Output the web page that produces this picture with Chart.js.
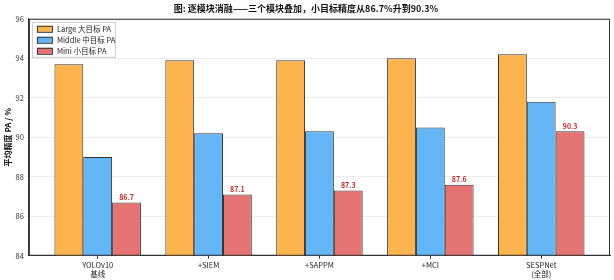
<!DOCTYPE html>
<html>
<head>
<meta charset="utf-8">
<script src="https://cdn.jsdelivr.net/npm/chart.js@4.4.0/dist/chart.umd.min.js"></script>
<style>
  html, body { margin: 0; padding: 0; background: #fff; }
  #wrap { width: 614px; height: 280px; }
</style>
</head>
<body>
<div id="wrap"><canvas id="chart" width="614" height="280"></canvas></div>
<script>
const categories = [['YOLOv10', '基线'], '+SIEM', '+SAPPM', '+MCI', ['SESPNet', '(全部)']];
const largePA = [93.7, 93.9, 93.9, 94.0, 94.2];
const middlePA = [89.0, 90.2, 90.3, 90.5, 91.8];
const miniPA = [86.7, 87.1, 87.3, 87.6, 90.3];
const seriesNames = ['Large 大目标 PA', 'Middle 中目标 PA', 'Mini 小目标 PA'];
const seriesColors = ['#fdb44e', '#64b5f6', '#e57373'];
const yTicks = [84, 86, 88, 90, 92, 94, 96];

const FONT = '"Noto Sans CJK SC", "DejaVu Sans", sans-serif';

// frame, legend box inside plot, labels above mini bars
const extras = {
  id: 'extras',
  afterDatasetsDraw(chart) {
    const ctx = chart.ctx;
    const a = chart.chartArea;
    ctx.save();
    const meta = chart.getDatasetMeta(2);
    ctx.fillStyle = '#c62828';
    ctx.font = 'bold 7px ' + FONT;
    ctx.textAlign = 'center';
    ctx.textBaseline = 'bottom';
    meta.data.forEach((bar, i) => {
      ctx.fillText(miniPA[i].toFixed(1), bar.x, bar.y - 2);
    });
    ctx.strokeStyle = '#333';
    ctx.lineWidth = 1;
    ctx.strokeRect(a.left + 0.5, a.top + 0.5, a.right - a.left - 1, a.bottom - a.top - 1);
    // legend
    const lx = a.left + 3, ly = a.top + 3, lw = 83, lh = 35;
    ctx.fillStyle = 'rgba(255,255,255,0.9)';
    ctx.strokeStyle = '#ccc';
    ctx.fillRect(lx, ly, lw, lh);
    ctx.strokeRect(lx + 0.5, ly + 0.5, lw, lh);
    ctx.font = '7.5px ' + FONT;
    ctx.textAlign = 'left';
    ctx.textBaseline = 'middle';
    seriesNames.forEach((name, i) => {
      const y = ly + 7 + i * 11;
      ctx.fillStyle = seriesColors[i];
      ctx.fillRect(lx + 5, y - 3, 15, 6);
      ctx.strokeStyle = '#333';
      ctx.strokeRect(lx + 5.5, y - 2.5, 15, 6);
      ctx.fillStyle = '#222';
      ctx.fillText(name, lx + 25, y + 0.5);
    });
    ctx.restore();
  }
};

new Chart(document.getElementById('chart'), {
  type: 'bar',
  data: {
    datasets: [largePA, middlePA, miniPA].map((vals, i) => ({
      label: seriesNames[i],
      data: vals.map((v, j) => ({ x: j, y: v })),
      backgroundColor: seriesColors[i],
      borderColor: '#333',
      borderWidth: 1,
      categoryPercentage: 0.78,
      barPercentage: 1.0
    }))
  },
  options: {
    responsive: false,
    animation: false,
    layout: { padding: { left: 2, right: 4, top: 0, bottom: 0 } },
    plugins: {
      legend: { display: false },
      tooltip: { enabled: false },
      title: {
        display: true,
        text: '图: 逐模块消融——三个模块叠加，小目标精度从86.7%升到90.3%',
        color: '#111',
        font: { family: FONT, size: 9, weight: 'bold' },
        padding: { top: 3, bottom: 5 }
      }
    },
    scales: {
      x: {
        type: 'linear',
        offset: false,
        min: -0.62,
        max: 4.62,
        afterBuildTicks(axis) { axis.ticks = categories.map((c, j) => ({ value: j })); },
        grid: { display: true, offset: false, drawOnChartArea: false, tickLength: 3, color: '#333' },
        border: { color: '#333' },
        ticks: {
          color: '#222',
          font: { family: FONT, size: 7.5, lineHeight: 1.15 },
          maxRotation: 0,
          padding: 2,
          callback: (v) => categories[v]
        }
      },
      y: {
        min: 84,
        max: 96,
        afterBuildTicks(axis) { axis.ticks = yTicks.map(v => ({ value: v })); },
        grid: { color: '#ececec', drawTicks: true, tickLength: 3 },
        border: { color: '#333' },
        ticks: { color: '#333', font: { family: FONT, size: 7.5 }, padding: 2 },
        title: {
          display: true,
          text: '平均精度 PA / %',
          color: '#111',
          font: { family: FONT, size: 8, weight: 'bold' },
          padding: 1
        }
      }
    }
  },
  plugins: [extras]
});
</script>
</body>
</html>
